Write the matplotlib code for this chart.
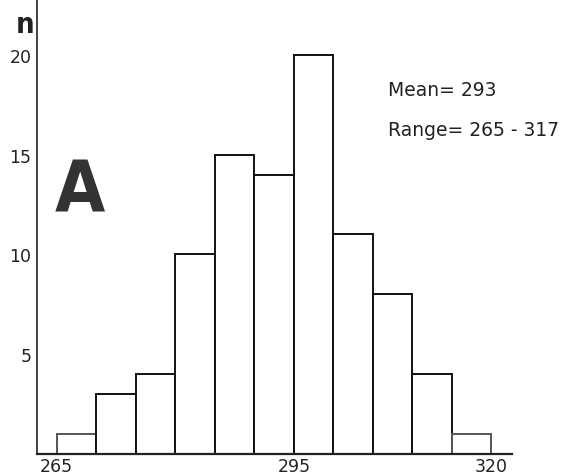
import matplotlib
matplotlib.use("Agg")
import matplotlib.pyplot as plt

bin_edges = [265, 270, 275, 280, 285, 290, 295, 300, 305, 310, 315, 320]
counts = [1, 3, 4, 10, 15, 14, 20, 11, 8, 4, 1]
x_ticks = [265, 295, 320]
y_ticks = [5, 10, 15, 20]

plt.rcParams['font.family'] = ['DejaVu Sans']

W, H = 583, 477
fig = plt.figure(figsize=(W / 100, H / 100), dpi=100)
ax = fig.add_axes([37 / W, 22 / H, (512 - 37) / W, (455 - 0) / H])

widths = [bin_edges[i + 1] - bin_edges[i] for i in range(len(counts))]
edgecols = ['#555555' if (i == 0 or i == len(counts) - 1) else '#111111' for i in range(len(counts))]
ax.bar(bin_edges[:-1], counts, width=widths, align='edge', facecolor='white',
       edgecolor=edgecols, linewidth=1.4)

ax.set_xlim(262.5, 322.6)
ax.set_ylim(0, 22.8)
for s in ['top', 'right']:
    ax.spines[s].set_visible(False)
ax.spines['left'].set_linewidth(1.2)
ax.spines['bottom'].set_linewidth(1.6)
ax.spines['left'].set_color('#222222')
ax.spines['bottom'].set_color('#222222')

ax.set_xticks(x_ticks)
ax.set_xticklabels([str(v) for v in x_ticks], fontsize=12.5, color='#222222')
ax.set_yticks(y_ticks)
ax.set_yticklabels([str(v) for v in y_ticks], fontsize=12.5, color='#222222')
ax.tick_params(axis='both', length=0, pad=2)
ax.tick_params(axis='y', pad=4)

fig.text(16 / W, 1 - 33 / H, "n", fontsize=21, fontweight='bold', fontstretch='condensed',
         color='#222222', ha='left', va='baseline')
fig.text(80 / W, 1 - 212 / H, "A", fontsize=52, fontweight='bold', fontstretch='condensed',
         color='#333333', ha='center', va='baseline')
fig.text(388 / W, 1 - 96 / H, "Mean= 293", fontsize=13.5, color='#222222', ha='left', va='baseline')
fig.text(388 / W, 1 - 136 / H, "Range= 265 - 317", fontsize=13.5, color='#222222', ha='left', va='baseline')

fig.savefig("out.png", dpi=100, facecolor='white')
